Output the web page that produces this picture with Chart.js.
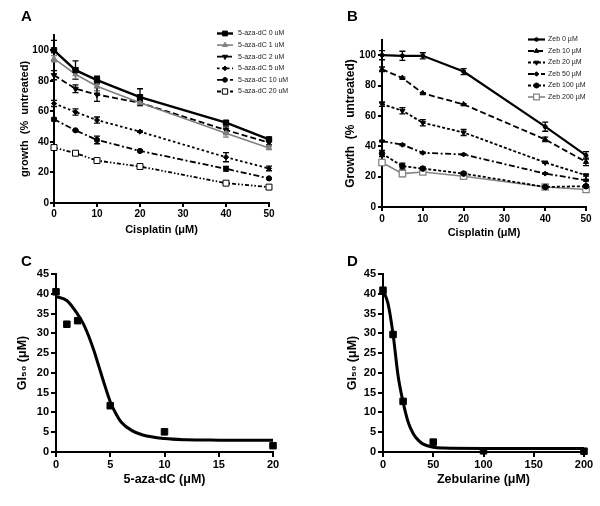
<!DOCTYPE html>
<html>
<head>
<meta charset="utf-8">
<script src="https://cdn.jsdelivr.net/npm/chart.js@4.4.1/dist/chart.umd.min.js"></script>
<style>
  body { margin: 0; background: #fff; }
  #fig { position: relative; width: 600px; height: 506px; font-family: "Liberation Sans", Arial, sans-serif; }
  canvas { position: absolute; }
  .letter { position: absolute; font-weight: bold; font-size: 15px; line-height: 15px; color: #000; }
</style>
</head>
<body>
<div id="fig">
  <canvas id="chartA" width="300" height="250" style="left:0;top:0"></canvas>
  <canvas id="chartB" width="300" height="250" style="left:300px;top:0"></canvas>
  <canvas id="chartC" width="300" height="256" style="left:0;top:250px"></canvas>
  <canvas id="chartD" width="300" height="256" style="left:300px;top:250px"></canvas>
  <div class="letter" style="left:21px;top:8px">A</div>
  <div class="letter" style="left:347px;top:8px">B</div>
  <div class="letter" style="left:21px;top:253px">C</div>
  <div class="letter" style="left:347px;top:253px">D</div>
</div>
<script>
/* ── Data: panel A (5-aza-dC + cisplatin) ── */
const X_CIS = [0, 5, 10, 20, 40, 50];
const AZA_LABELS = ['5-aza-dC 0 uM', '5-aza-dC 1 uM', '5-aza-dC 2 uM', '5-aza-dC 5 uM', '5-aza-dC 10 uM', '5-aza-dC 20 uM'];
const AZA_0  = [100, 87, 80.5, 69.3, 52.6, 41.7];
const AZA_1  = [94.5, 84.3, 76.5, 65.7, 45.6, 36];
const AZA_2  = [83.7, 74.8, 71, 65.6, 47.8, 39.5];
const AZA_5  = [65.2, 59.6, 54.3, 46.7, 30, 22.6];
const AZA_10 = [54.8, 47.6, 41.3, 34.1, 22.4, 16.1];
const AZA_20 = [36.3, 32.6, 27.8, 23.9, 13, 10.4];
const AZA_0_ERR  = [6.5, 6, 2.5, 5.5, 1, 1];
const AZA_1_ERR  = [2, 3, 3, 2, 2.5, 1];
const AZA_2_ERR  = [3, 2.5, 4.5, 1.5, 2, 1.5];
const AZA_5_ERR  = [2, 2, 2, 0.5, 3, 1.5];
const AZA_10_ERR = [1, 0.5, 2.5, 0.5, 1.5, 0.5];
const AZA_20_ERR = [1, 1, 1, 1, 1, 1];

/* ── Data: panel B (zebularine + cisplatin) ── */
const ZEB_LABELS = ['Zeb 0 µM', 'Zeb 10 µM', 'Zeb 20 µM', 'Zeb 50 µM', 'Zeb 100 µM', 'Zeb 200 µM'];
const ZEB_0   = [100, 99.6, 99.6, 89.2, 52.9, 34];
const ZEB_10  = [90.7, 85, 74.9, 67.6, 44.5, 29.7];
const ZEB_20  = [67.8, 63.4, 55.5, 49.1, 29.3, 20.9];
const ZEB_50  = [43.4, 41, 35.7, 34.6, 22, 17.6];
const ZEB_100 = [35.2, 26.9, 25.3, 22, 13.2, 13.7];
const ZEB_200 = [29.3, 22, 23.1, 20.3, 13.2, 11.5];
const ZEB_0_ERR   = [3, 3, 2, 2, 3, 2.5];
const ZEB_10_ERR  = [1.5, 0.5, 0.5, 0.5, 1.5, 2.5];
const ZEB_20_ERR  = [1.5, 2, 2, 2, 0.5, 0.5];
const ZEB_50_ERR  = [0.5, 0.5, 0.5, 0.5, 0.5, 0.5];
const ZEB_100_ERR = [2, 2, 1, 1, 0.5, 1];
const ZEB_200_ERR = [1, 2, 1, 1, 1, 1];

/* ── Data: panel C (GI50 vs 5-aza-dC) ── */
const C_X = [0, 1, 2, 5, 10, 20];
const C_GI50 = [40.5, 32.3, 33.2, 11.7, 5.1, 1.6];
const C_FIT_X = [0, 1, 2, 2.5, 3, 3.5, 4, 4.5, 5, 5.5, 6, 7, 8, 10, 12, 15, 20];
const C_FIT_Y = [39.3, 38.3, 34.8, 32.5, 29.4, 25.6, 21.2, 16.8, 12.7, 9.8, 7.6, 5.4, 4.3, 3.4, 3.1, 3.0, 2.95];

/* ── Data: panel D (GI50 vs zebularine) ── */
const D_X = [0, 10, 20, 50, 100, 200];
const D_GI50 = [40.9, 29.7, 12.8, 2.5, 0.3, 0.2];
const D_FIT_X = [0, 5, 10, 15, 20, 25, 30, 35, 40, 50, 60, 100, 150, 200];
const D_FIT_Y = [41, 37.5, 29.8, 19.3, 12.6, 7.6, 4.7, 3.0, 2.0, 1.2, 1.0, 0.9, 0.9, 0.9];

/* ── Tick labels ── */
const GROWTH_TICKS = [0, 20, 40, 60, 80, 100];
const CIS_TICKS = [0, 10, 20, 30, 40, 50];
const GI_TICKS = [0, 5, 10, 15, 20, 25, 30, 35, 40, 45];
const AZA_TICKS = [0, 5, 10, 15, 20];
const ZEBX_TICKS = [0, 50, 100, 150, 200];

const FONT = '"Liberation Sans", Arial, sans-serif';

/* ── Helpers ── */
const xy = (xs, ys) => xs.map((x, i) => ({ x, y: ys[i] }));

function scaleCfg({ min, max, ticks, title, tickSize, titleSize, fit, tickLen, tickPad }) {
  return {
    type: 'linear', min, max,
    afterBuildTicks: s => { s.ticks = ticks.map(v => ({ value: v })); },
    afterFit: s => { if (s.isHorizontal()) s.height = fit; else s.width = fit; },
    grid: { drawOnChartArea: false, drawTicks: true, tickLength: tickLen, color: '#000', lineWidth: 2 },
    border: { display: true, color: '#000', width: 2 },
    ticks: { color: '#000', padding: tickPad, autoSkip: false, maxRotation: 0,
             font: { family: FONT, size: tickSize, weight: 'bold' } },
    title: { display: true, text: title, color: '#000', padding: 0,
             font: { family: FONT, size: titleSize, weight: 'bold' } },
  };
}

function series(label, ys, errs, style) {
  return Object.assign({
    label, data: xy(X_CIS, ys), errors: errs,
    borderColor: '#000', borderWidth: 1.8, borderDash: [],
    pointBackgroundColor: '#000', pointBorderColor: '#000', pointBorderWidth: 1,
    pointRadius: 3, pointStyle: 'circle', pointRotation: 0,
    tension: 0, clip: false, fill: false,
  }, style);
}

/* ── Plugins ── */
const errorBars = {
  id: 'errorBars',
  beforeDatasetsDraw(chart) {
    const { ctx, scales: { x, y } } = chart;
    chart.data.datasets.forEach(ds => {
      if (!ds.errors) return;
      ctx.save();
      ctx.strokeStyle = ds.borderColor;
      ctx.lineWidth = 1.3;
      ctx.setLineDash([]);
      ds.data.forEach((p, i) => {
        const e = ds.errors[i];
        if (!e) return;
        const px = x.getPixelForValue(p.x);
        const top = y.getPixelForValue(p.y + e);
        const bot = y.getPixelForValue(p.y - e);
        ctx.beginPath();
        ctx.moveTo(px, top); ctx.lineTo(px, bot);
        ctx.moveTo(px - 3, top); ctx.lineTo(px + 3, top);
        ctx.moveTo(px - 3, bot); ctx.lineTo(px + 3, bot);
        ctx.stroke();
      });
      ctx.restore();
    });
  },
};

const inlineLegend = {
  id: 'inlineLegend',
  afterDraw(chart, args, o) {
    const ctx = chart.ctx;
    chart.data.datasets.forEach((ds, i) => {
      const y = o.y + i * o.rowH;
      ctx.save();
      ctx.strokeStyle = ds.borderColor;
      ctx.lineWidth = ds.borderWidth;
      ctx.setLineDash(ds.borderDash || []);
      ctx.beginPath();
      ctx.moveTo(o.x, y); ctx.lineTo(o.x + o.len, y);
      ctx.stroke();
      ctx.setLineDash([]);
      ctx.fillStyle = ds.pointBackgroundColor;
      ctx.strokeStyle = ds.pointBorderColor;
      ctx.lineWidth = ds.pointBorderWidth;
      Chart.helpers.drawPoint(ctx, {
        pointStyle: ds.pointStyle, radius: ds.pointRadius * 0.9,
        rotation: ds.pointRotation || 0, borderWidth: ds.pointBorderWidth,
      }, o.x + o.len / 2, y);
      ctx.fillStyle = '#222';
      ctx.font = o.font;
      ctx.textBaseline = 'middle';
      ctx.fillText(ds.label, o.x + o.len + o.gap, y);
      ctx.restore();
    });
  },
};

const baseOptions = (padding, scales, legend) => ({
  responsive: false, animation: false,
  layout: { padding },
  scales,
  plugins: { legend: { display: false }, tooltip: { enabled: false }, inlineLegend: legend },
});

/* ── Panel A ── */
new Chart(document.getElementById('chartA'), {
  type: 'line',
  data: { datasets: [
    series(AZA_LABELS[0], AZA_0, AZA_0_ERR, { borderWidth: 2.4, pointStyle: 'rect', pointRadius: 3.8 }),
    series(AZA_LABELS[1], AZA_1, AZA_1_ERR, { borderColor: '#808080', pointBackgroundColor: '#808080', pointBorderColor: '#808080', borderWidth: 1.6, pointStyle: 'triangle', pointRadius: 3.2 }),
    series(AZA_LABELS[2], AZA_2, AZA_2_ERR, { borderDash: [6, 3], pointStyle: 'triangle', pointRotation: 180, pointRadius: 3.2 }),
    series(AZA_LABELS[3], AZA_5, AZA_5_ERR, { borderDash: [2.5, 2.5], pointStyle: 'rectRot', pointRadius: 2.6 }),
    series(AZA_LABELS[4], AZA_10, AZA_10_ERR, { borderDash: [6, 2.5, 2, 2.5], pointStyle: 'circle', pointRadius: 2.6 }),
    series(AZA_LABELS[5], AZA_20, AZA_20_ERR, { borderDash: [4, 2, 1.5, 2, 1.5, 2], pointStyle: 'rect', pointRadius: 4.2, pointBackgroundColor: '#fff' }),
  ] },
  options: baseOptions({ left: 18, right: 31, top: 35, bottom: 13 }, {
    x: scaleCfg({ min: 0, max: 50, ticks: CIS_TICKS, title: 'Cisplatin (μM)', tickSize: 10, titleSize: 11, fit: 34, tickLen: 4, tickPad: 1 }),
    y: scaleCfg({ min: 0, max: 110, ticks: GROWTH_TICKS, title: 'growth  (%  untreated)', tickSize: 10, titleSize: 11, fit: 36, tickLen: 4, tickPad: 1 }),
  }, { x: 217, y: 33.5, len: 16, gap: 5, rowH: 11.6, font: '7px ' + FONT }),
  plugins: [errorBars, inlineLegend],
});

/* ── Panel B ── */
new Chart(document.getElementById('chartB'), {
  type: 'line',
  data: { datasets: [
    series(ZEB_LABELS[0], ZEB_0, ZEB_0_ERR, { borderWidth: 2.2, pointStyle: 'circle', pointRadius: 2 }),
    series(ZEB_LABELS[1], ZEB_10, ZEB_10_ERR, { borderDash: [6, 3], pointStyle: 'triangle', pointRadius: 3 }),
    series(ZEB_LABELS[2], ZEB_20, ZEB_20_ERR, { borderDash: [3, 2], pointStyle: 'triangle', pointRotation: 180, pointRadius: 3 }),
    series(ZEB_LABELS[3], ZEB_50, ZEB_50_ERR, { borderDash: [6, 2.5, 2, 2.5], pointStyle: 'rectRot', pointRadius: 2.5 }),
    series(ZEB_LABELS[4], ZEB_100, ZEB_100_ERR, { borderDash: [3, 2], pointStyle: 'circle', pointRadius: 2.8 }),
    series(ZEB_LABELS[5], ZEB_200, ZEB_200_ERR, { borderColor: '#858585', pointBorderColor: '#858585', pointBackgroundColor: '#fff', borderWidth: 1.6, pointStyle: 'rect', pointRadius: 4.5, pointBorderWidth: 1.3 }),
  ] },
  options: baseOptions({ left: 43, right: 14, top: 40, bottom: 10 }, {
    x: scaleCfg({ min: 0, max: 50, ticks: CIS_TICKS, title: 'Cisplatin (μM)', tickSize: 10, titleSize: 11, fit: 33, tickLen: 4, tickPad: 2 }),
    y: scaleCfg({ min: 0, max: 110, ticks: GROWTH_TICKS, title: 'Growth  (%  untreated)', tickSize: 10, titleSize: 12, fit: 39, tickLen: 4, tickPad: 2 }),
  }, { x: 228, y: 39.5, len: 17, gap: 3, rowH: 11.5, font: '7px ' + FONT }),
  plugins: [errorBars, inlineLegend],
});

/* ── Panels C and D ── */
function gi50Chart(id, xs, ys, fitX, fitY, xMax, xTicks, xTitle, padding, yFit) {
  return new Chart(document.getElementById(id), {
    data: { datasets: [
      { type: 'line', data: xy(fitX, fitY), borderColor: '#000', borderWidth: 3, pointRadius: 0,
        cubicInterpolationMode: 'monotone', clip: false, fill: false },
      { type: 'scatter', data: xy(xs, ys), pointStyle: 'rect', pointRadius: 4.6,
        pointBackgroundColor: '#000', pointBorderColor: '#000', clip: false },
    ] },
    options: {
      responsive: false, animation: false,
      layout: { padding },
      scales: {
        x: scaleCfg({ min: 0, max: xMax, ticks: xTicks, title: xTitle, tickSize: 11, titleSize: 12.5, fit: 35.5, tickLen: 5, tickPad: 1 }),
        y: scaleCfg({ min: 0, max: 45, ticks: GI_TICKS, title: 'GI₅₀ (μM)', tickSize: 11, titleSize: 12.5, fit: yFit, tickLen: 5, tickPad: 2 }),
      },
      plugins: { legend: { display: false }, tooltip: { enabled: false } },
    },
  });
}

gi50Chart('chartC', C_X, C_GI50, C_FIT_X, C_FIT_Y, 20, AZA_TICKS, '5-aza-dC (μM)',
  { left: 15, right: 27, top: 24, bottom: 18.5 }, 41);
gi50Chart('chartD', D_X, D_GI50, D_FIT_X, D_FIT_Y, 200, ZEBX_TICKS, 'Zebularine (μM)',
  { left: 45.5, right: 16, top: 24, bottom: 18.5 }, 37.5);
</script>
</body>
</html>
